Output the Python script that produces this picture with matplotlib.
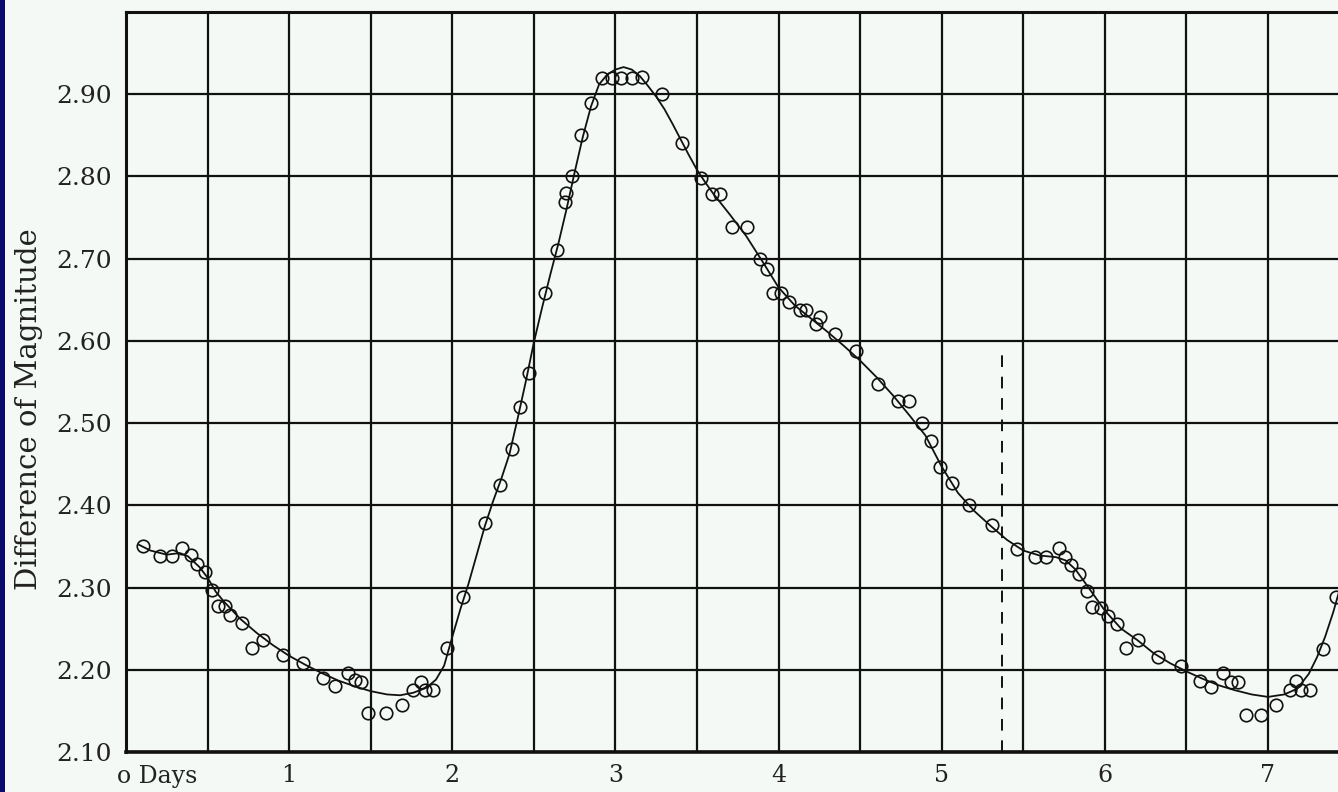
import numpy as np
import matplotlib
matplotlib.use("Agg")
import matplotlib.pyplot as plt
import matplotlib.transforms as mtransforms

# ---- data ----
obs_days = [0.106, 0.208, 0.280, 0.345, 0.396, 0.433, 0.484, 0.525, 0.566, 0.607,
            0.637, 0.709, 0.770, 0.841, 0.964, 1.087, 1.209, 1.281, 1.362, 1.403,
            1.438, 1.485, 1.593, 1.689, 1.761, 1.806, 1.832, 1.879, 1.965, 2.067,
            2.200, 2.292, 2.369, 2.414, 2.469, 2.567, 2.639, 2.690, 2.700, 2.731,
            2.792, 2.853, 2.915, 2.976, 3.037, 3.099, 3.164, 3.286, 3.409, 3.527,
            3.589, 3.644, 3.717, 3.809, 3.889, 3.930, 3.966, 4.013, 4.063, 4.130,
            4.167, 4.232, 4.257, 4.344, 4.473, 4.611, 4.734, 4.802, 4.877, 4.932,
            4.989, 5.061, 5.170, 5.308, 5.462, 5.570, 5.641, 5.717, 5.758, 5.795,
            5.841, 5.891, 5.923, 5.978, 6.019, 6.074, 6.132, 6.203, 6.326, 6.464,
            6.585, 6.652, 6.724, 6.771, 6.816, 6.863, 6.959, 7.051, 7.132, 7.173,
            7.204, 7.255, 7.337, 7.420]
obs_mag = [2.350, 2.338, 2.338, 2.348, 2.340, 2.329, 2.319, 2.297, 2.277, 2.277,
           2.267, 2.257, 2.226, 2.236, 2.218, 2.208, 2.190, 2.180, 2.196, 2.188,
           2.185, 2.147, 2.147, 2.157, 2.175, 2.185, 2.175, 2.175, 2.226, 2.289,
           2.379, 2.425, 2.468, 2.520, 2.561, 2.658, 2.710, 2.769, 2.780, 2.800,
           2.850, 2.889, 2.920, 2.920, 2.920, 2.920, 2.921, 2.900, 2.841, 2.798,
           2.779, 2.779, 2.738, 2.738, 2.700, 2.688, 2.658, 2.658, 2.647, 2.637,
           2.637, 2.621, 2.629, 2.608, 2.588, 2.548, 2.527, 2.527, 2.500, 2.478,
           2.447, 2.427, 2.400, 2.376, 2.347, 2.337, 2.337, 2.348, 2.337, 2.327,
           2.317, 2.296, 2.276, 2.275, 2.265, 2.256, 2.226, 2.236, 2.216, 2.205,
           2.186, 2.179, 2.196, 2.185, 2.185, 2.145, 2.145, 2.157, 2.175, 2.186,
           2.175, 2.175, 2.225, 2.288]

curve_days = [0.08, 0.15, 0.25, 0.33, 0.38, 0.45, 0.50, 0.55, 0.60, 0.70,
              0.80, 0.90, 1.00, 1.10, 1.20, 1.30, 1.40, 1.50, 1.60, 1.68,
              1.76, 1.84, 1.90, 1.95, 2.00, 2.05, 2.10, 2.15, 2.20, 2.25,
              2.30, 2.35, 2.40, 2.45, 2.50, 2.55, 2.60, 2.65, 2.70, 2.75,
              2.80, 2.85, 2.90, 2.95, 3.00, 3.05, 3.10, 3.15, 3.20, 3.25,
              3.30, 3.35, 3.40, 3.45, 3.50, 3.55, 3.60, 3.70, 3.80, 3.90,
              4.00, 4.10, 4.20, 4.30, 4.40, 4.50, 4.60, 4.70, 4.80, 4.90,
              5.00, 5.10, 5.20, 5.30, 5.40, 5.50, 5.60, 5.70, 5.76, 5.82,
              5.90, 6.00, 6.10, 6.20, 6.30, 6.40, 6.50, 6.60, 6.70, 6.80,
              6.90, 7.00, 7.10, 7.18, 7.25, 7.30, 7.35, 7.40, 7.45]
curve_mag = [2.352, 2.345, 2.340, 2.342, 2.338, 2.325, 2.312, 2.295, 2.283, 2.262,
             2.245, 2.230, 2.217, 2.206, 2.196, 2.187, 2.180, 2.174, 2.170, 2.169,
             2.172, 2.178, 2.188, 2.205, 2.240, 2.274, 2.305, 2.340, 2.375, 2.405,
             2.432, 2.462, 2.505, 2.550, 2.598, 2.640, 2.680, 2.718, 2.760, 2.805,
             2.848, 2.885, 2.912, 2.924, 2.930, 2.933, 2.930, 2.922, 2.910, 2.897,
             2.882, 2.864, 2.845, 2.826, 2.808, 2.793, 2.779, 2.754, 2.728, 2.697,
             2.665, 2.643, 2.627, 2.611, 2.594, 2.576, 2.556, 2.534, 2.510, 2.485,
             2.447, 2.415, 2.393, 2.375, 2.358, 2.345, 2.339, 2.337, 2.333, 2.322,
             2.300, 2.272, 2.250, 2.236, 2.220, 2.208, 2.198, 2.189, 2.181, 2.175,
             2.170, 2.167, 2.170, 2.177, 2.195, 2.215, 2.240, 2.270, 2.305]

dashed_day = 5.37
dashed_top = 2.59

y_ticks = [2.10, 2.20, 2.30, 2.40, 2.50, 2.60, 2.70, 2.80, 2.90]
y_tick_labels = ["2.10", "2.20", "2.30", "2.40", "2.50", "2.60", "2.70", "2.80", "2.90"]
x_ticks = [0, 1, 2, 3, 4, 5, 6, 7]
x_tick_labels = ["o Days", "1", "2", "3", "4", "5", "6", "7"]
y_label = "Difference of Magnitude"

# ---- figure ----
bg = "#f5f9f6"
fig = plt.figure(figsize=(13.38, 7.92), dpi=100, facecolor=bg)
# navy left border strip
fig.patches.append(plt.Rectangle((0, 0), 5 / 1338, 1, transform=fig.transFigure,
                                 facecolor="#0a0a6e", edgecolor="none", zorder=0))

ax = fig.add_axes([126 / 1338, 1 - 752 / 792, (1338 - 126) / 1338, (752 - 12) / 792])
ax.set_facecolor(bg)
ax.set_xlim(0, 1212 / 163.14)
ax.set_ylim(2.10, 3.00)

ax.set_xticks(x_ticks)
ax.set_xticks(np.arange(0.5, 7.5, 1.0), minor=True)
ax.set_yticks(y_ticks)
ax.set_yticks([3.0], minor=True)
ax.grid(True, which="both", color="#111111", linewidth=1.6)
ax.set_axisbelow(True)
ax.tick_params(which="both", length=0)
ax.tick_params(axis="y", pad=10)
ax.tick_params(axis="x", pad=9)

ax.set_yticklabels(y_tick_labels, fontsize=18, family="DejaVu Serif", color="#222222")
ax.set_xticklabels(x_tick_labels, fontsize=17, family="DejaVu Serif", color="#222222")
first = ax.get_xticklabels()[0]
first.set_ha("left")
first.set_transform(first.get_transform() +
                    mtransforms.ScaledTranslation(-9 / 100, 0, fig.dpi_scale_trans))

for side in ["top", "right"]:
    ax.spines[side].set_visible(False)
ax.spines["left"].set_linewidth(2.2)
ax.spines["bottom"].set_linewidth(2.6)
ax.spines["left"].set_color("#111111")
ax.spines["bottom"].set_color("#111111")
ax.axhline(3.0, color="#111111", linewidth=2.2, clip_on=False)

ax.set_ylabel(y_label, fontsize=21, family="DejaVu Serif", color="#222222")
ax.yaxis.set_label_coords(-(126 - 43) / 1212, (752 - 409) / 740)

ax.plot(curve_days, curve_mag, color="#111111", linewidth=1.3, zorder=3)
ax.plot(obs_days, obs_mag, linestyle="none", marker="o", markersize=9,
        markerfacecolor="none", markeredgecolor="#111111", markeredgewidth=1.2, zorder=4)
ax.plot([dashed_day, dashed_day], [2.10, dashed_top], color="#111111", linewidth=1.4,
        linestyle=(0, (6, 5)), zorder=3)

fig.savefig("out.png", dpi=100, facecolor=bg)
